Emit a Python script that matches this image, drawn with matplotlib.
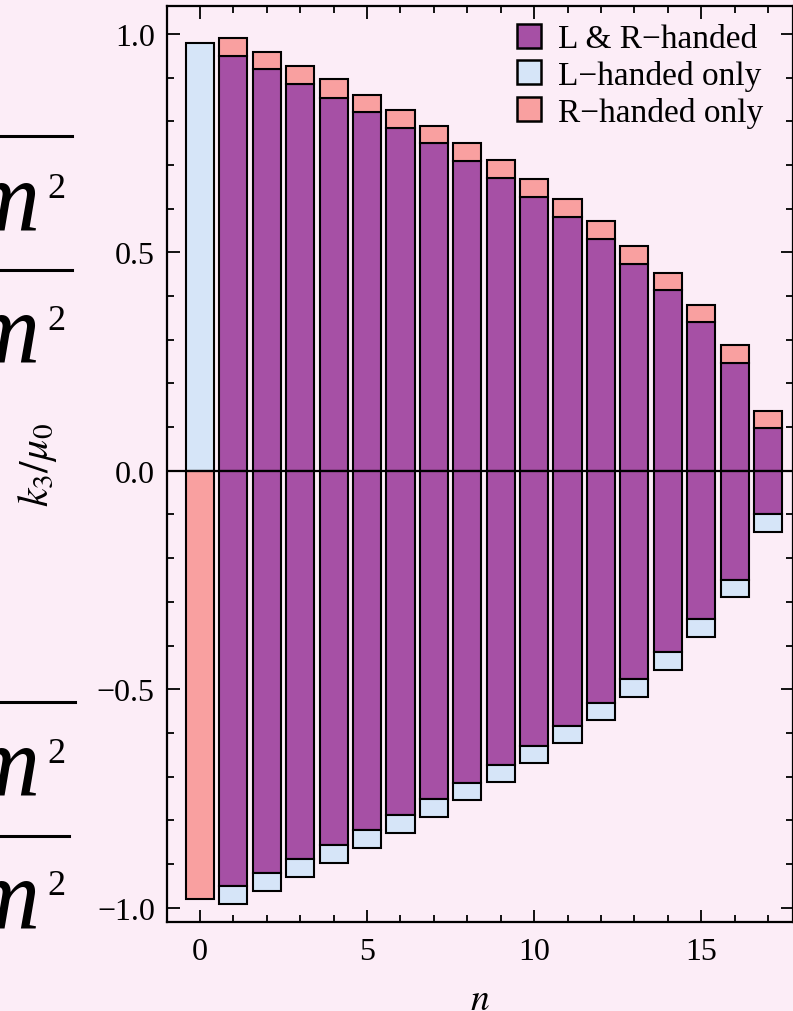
import numpy as np
import matplotlib
matplotlib.use("Agg")
import matplotlib.pyplot as plt
from matplotlib.patches import Patch
from matplotlib.lines import Line2D
from matplotlib.ticker import MultipleLocator

plt.rcParams['font.family'] = ['Liberation Serif', 'DejaVu Serif']
plt.rcParams['mathtext.fontset'] = 'stix'

# data
n = np.arange(18)
# n = 0 : only one handedness on each side
n0_left_up = 0.980
n0_right_down = -0.980
# n >= 1 : top of purple (both) and top of red (right-handed only) segments
both_up = [0.950, 0.919, 0.886, 0.854, 0.820, 0.785, 0.749, 0.709, 0.670,
           0.626, 0.580, 0.531, 0.474, 0.413, 0.340, 0.247, 0.097]
right_top = [0.990, 0.959, 0.926, 0.896, 0.861, 0.826, 0.789, 0.751, 0.711,
             0.667, 0.622, 0.571, 0.514, 0.452, 0.380, 0.288, 0.137]
# n >= 1 : bottom of purple (both) and bottom of blue (left-handed only)
both_down = [-0.951, -0.921, -0.889, -0.856, -0.823, -0.788, -0.751, -0.714, -0.674,
             -0.630, -0.583, -0.531, -0.477, -0.415, -0.340, -0.249, -0.099]
left_bottom = [-0.992, -0.962, -0.930, -0.898, -0.863, -0.828, -0.792, -0.753, -0.713,
               -0.669, -0.623, -0.571, -0.518, -0.455, -0.381, -0.288, -0.140]

labels = ["L & R\u2212handed", "L\u2212handed only", "R\u2212handed only"]
c_both = '#a650a5'
c_left = '#d6e5f8'
c_right = '#f9a0a0'

fig = plt.figure(figsize=(7.93, 10.12), dpi=100, facecolor='#fcedf7')
ax = fig.add_axes([0.211, 0.0882, 0.789, 0.9046])
ax.set_facecolor('none')

w = 0.84
kw = dict(width=w, edgecolor='black', linewidth=1.5)
nn = n[1:]
bu = np.array(both_up)
bd = np.array(both_down)
ax.bar(0, n0_left_up, color=c_left, **kw)
ax.bar(0, n0_right_down, color=c_right, **kw)
ax.bar(nn, bu, color=c_both, **kw)
ax.bar(nn, np.array(right_top) - bu, bottom=bu, color=c_right, **kw)
ax.bar(nn, bd, color=c_both, **kw)
ax.bar(nn, np.array(left_bottom) - bd, bottom=bd, color=c_left, **kw)
ax.axhline(0, color='black', lw=1.6, zorder=5)

ax.set_xlim(-0.98, 17.75)
ax.set_ylim(-1.032, 1.063)
ax.set_xticks([0, 5, 10, 15])
ax.xaxis.set_minor_locator(MultipleLocator(1))
ax.set_yticks([-1.0, -0.5, 0.0, 0.5, 1.0])
ax.yaxis.set_minor_locator(MultipleLocator(0.1))
ax.tick_params(which='both', direction='in', top=True, right=True, width=1.3, labelsize=23)
ax.tick_params(which='major', length=9)
ax.tick_params(which='minor', length=5)
ax.tick_params(axis='y', pad=9)
ax.tick_params(axis='x', pad=11)
for s in ax.spines.values():
    s.set_linewidth(1.6)

ax.set_xlabel('$n$', fontsize=27)
ax.xaxis.set_label_coords(0.5, -0.066)
ax.xaxis.label.set_va('top')
ax.set_ylabel('$k_3/\\mu_0$', fontsize=30)
ax.yaxis.set_label_coords(-0.173, 0.5)

handles = [Patch(facecolor=c, edgecolor='black', linewidth=1.8) for c in (c_both, c_left, c_right)]
ax.legend(handles, labels, loc='upper left', bbox_to_anchor=(0.559, 0.981), frameon=False,
          fontsize=24, handlelength=0.73, handleheight=0.73, handletextpad=0.5,
          labelspacing=0.17, borderpad=0, borderaxespad=0)

# equation fragments cut at the left edge of the slide
for yl, x1 in [(137, 72), (271, 72), (703, 75), (837, 69)]:
    fig.add_artist(Line2D([0, x1 / 793], [1 - yl / 1012] * 2, color='black', lw=2.2))
for yb in [230, 362, 795, 927]:
    fig.text(40 / 793, 1 - yb / 1012, 'm', fontsize=72, style='italic', ha='right', va='baseline')
    fig.text(47 / 793, 1 - (yb - 32) / 1012, '2', fontsize=26, ha='left', va='baseline')

fig.savefig('out.png', dpi=100, facecolor=fig.get_facecolor())
